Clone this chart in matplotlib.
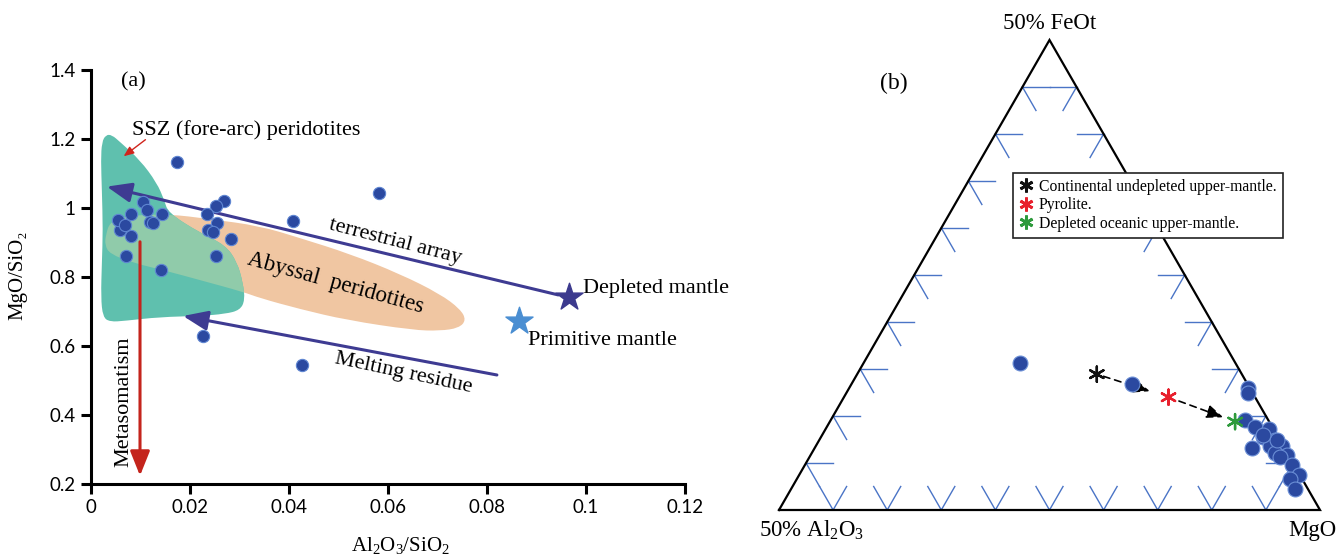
import numpy as np
import matplotlib.pyplot as plt
from matplotlib.path import Path
from matplotlib.patches import PathPatch
from matplotlib.lines import Line2D

plt.rcParams['font.family'] = ['Liberation Serif', 'DejaVu Serif']
plt.rcParams['mathtext.fontset'] = 'custom'
plt.rcParams['mathtext.rm'] = 'Liberation Serif'
plt.rcParams['mathtext.it'] = 'Liberation Serif:italic'

# ---- panel (a): Al2O3/SiO2 vs MgO/SiO2 ----
al_si = [0.0173, 0.0582, 0.0409, 0.0269, 0.0253, 0.0235, 0.0254, 0.0236, 0.0247,
         0.0282, 0.0253, 0.0141, 0.0070, 0.0080, 0.0058, 0.0055, 0.0068, 0.0081,
         0.0106, 0.0113, 0.0119, 0.0125, 0.0143, 0.0227, 0.0427]
mg_si = [1.132, 1.044, 0.962, 1.020, 1.005, 0.984, 0.957, 0.935, 0.931,
         0.910, 0.862, 0.819, 0.860, 0.918, 0.935, 0.965, 0.951, 0.984,
         1.016, 0.993, 0.958, 0.957, 0.982, 0.630, 0.545]

depleted_mantle = (0.0966, 0.743)
primitive_mantle = (0.0865, 0.672)

# field outlines (data units)
ssz_x = [0.0022, 0.0030, 0.0042, 0.0059, 0.0099, 0.0133, 0.0148, 0.0156, 0.0220,
         0.0271, 0.0295, 0.0307, 0.0311, 0.0301, 0.0271, 0.0220, 0.0139, 0.0069,
         0.0038, 0.0024, 0.0020, 0.0022, 0.0024, 0.0022, 0.0020]
ssz_y = [1.191, 1.212, 1.212, 1.191, 1.139, 1.073, 1.023, 0.986, 0.928,
         0.893, 0.844, 0.783, 0.733, 0.704, 0.693, 0.687, 0.684, 0.673,
         0.670, 0.684, 0.742, 0.841, 0.936, 1.052, 1.139]
aby_x = [0.0030, 0.0038, 0.0069, 0.0154, 0.0240, 0.0341, 0.0422, 0.0523, 0.0624,
         0.0705, 0.0746, 0.0758, 0.0743, 0.0705, 0.0651, 0.0517, 0.0422, 0.0341,
         0.0307, 0.0220, 0.0154, 0.0085, 0.0038, 0.0028]
aby_y = [0.922, 0.959, 0.977, 0.983, 0.968, 0.948, 0.913, 0.867, 0.809,
         0.751, 0.707, 0.675, 0.652, 0.644, 0.646, 0.675, 0.707, 0.739,
         0.757, 0.791, 0.817, 0.841, 0.867, 0.893]

xticks = [0, 0.02, 0.04, 0.06, 0.08, 0.1, 0.12]
xtick_labels = ['0', '0.02', '0.04', '0.06', '0.08', '0.1', '0.12']
yticks = [0.2, 0.4, 0.6, 0.8, 1.0, 1.2, 1.4]
ytick_labels = ['0.2', '0.4', '0.6', '0.8', '1', '1.2', '1.4']

# ---- panel (b): ternary, normalised (FeOt apex, MgO right) ----
tern_feo = [0.312, 0.268, 0.259, 0.248, 0.192, 0.177, 0.172, 0.156, 0.150, 0.136,
            0.131, 0.136, 0.121, 0.117, 0.112, 0.096, 0.075, 0.065, 0.045, 0.149, 0.160]
tern_mgo = [0.290, 0.518, 0.738, 0.743, 0.766, 0.791, 0.819, 0.816, 0.842, 0.840,
            0.808, 0.861, 0.857, 0.880, 0.870, 0.901, 0.923, 0.912, 0.932, 0.846, 0.815]
ref_labels = ['Continental undepleted upper-mantle.', 'Pyrolite.',
              'Depleted oceanic upper-mantle.']
ref_feo = [0.289, 0.240, 0.188]
ref_mgo = [0.443, 0.600, 0.749]
ref_colors = ['#111111', '#e8202d', '#2e9a3c']


def smooth_patch(xs, ys, **kw):
    pts = np.column_stack([xs, ys])
    mids = (pts + np.roll(pts, -1, axis=0)) / 2
    verts = [mids[-1]]
    codes = [Path.MOVETO]
    for p, m in zip(pts, mids):
        verts += [p, m]
        codes += [Path.CURVE3, Path.CURVE3]
    return PathPatch(Path(verts, codes), **kw)


fig = plt.figure(figsize=(13.38, 5.58), dpi=100)

ax = fig.add_axes([91 / 1338, 74 / 558, 594 / 1338, 414 / 558])
ax.set_xlim(0, 0.12)
ax.set_ylim(0.2, 1.4)
for s in ['top', 'right']:
    ax.spines[s].set_visible(False)
for s in ['left', 'bottom']:
    ax.spines[s].set_linewidth(2.2)
ax.set_xticks(xticks)
ax.set_xticklabels(xtick_labels)
ax.set_yticks(yticks)
ax.set_yticklabels(ytick_labels)
ax.tick_params(direction='out', length=7, width=2.2, labelsize=13.5, pad=4)
for lab in ax.get_xticklabels() + ax.get_yticklabels():
    lab.set_fontfamily('Lato')

aby = smooth_patch(aby_x, aby_y, fc='#f0c6a2', ec='none', zorder=1)
ax.add_patch(aby)
ssz = smooth_patch(ssz_x, ssz_y, fc='#5fc0ae', ec='none', zorder=2)
ax.add_patch(ssz)
ovl = smooth_patch(aby_x, aby_y, fc='#90cbaa', ec='none', zorder=3)
ax.add_patch(ovl)
ovl.set_clip_path(ssz)

arrow_blue = '#3e3b92'
big_head = '-|>,head_length=1.5,head_width=0.6'
ax.annotate('', xy=(0.0032, 1.062), xytext=(0.0944, 0.748),
            arrowprops=dict(arrowstyle=big_head, color=arrow_blue, lw=2.2,
                            shrinkA=0, shrinkB=0, mutation_scale=10), zorder=4)
ax.annotate('', xy=(0.0186, 0.687), xytext=(0.0820, 0.516),
            arrowprops=dict(arrowstyle=big_head, color=arrow_blue, lw=2.2,
                            shrinkA=0, shrinkB=0, mutation_scale=10), zorder=4)
ax.annotate('', xy=(0.0099, 0.224), xytext=(0.0099, 0.902),
            arrowprops=dict(arrowstyle=big_head, color='#c4241c', lw=2.2,
                            shrinkA=0, shrinkB=0, mutation_scale=10), zorder=4)
ax.annotate('', xy=(0.0066, 1.150), xytext=(0.0110, 1.198),
            arrowprops=dict(arrowstyle='-|>,head_length=0.6,head_width=0.25',
                            color='#d0241c', lw=1.0, shrinkA=0, shrinkB=0,
                            mutation_scale=10), zorder=4)

ax.scatter(al_si, mg_si, s=78, c='#2b49a0', edgecolors='#5f86d2',
           linewidths=0.8, zorder=5, clip_on=False)
ax.scatter(*depleted_mantle, marker='*', s=420, c='#3c3a8e', zorder=5)
ax.scatter(*primitive_mantle, marker='*', s=420, c='#4a8ed2', zorder=5)

ax.text(0.0085, 1.365, '(a)', fontsize=16, ha='center', va='center')
ax.text(0.0083, 1.226, 'SSZ (fore-arc) peridotites', fontsize=16, ha='left', va='center')
ax.text(0.0614, 0.902, 'terrestrial array', fontsize=16, ha='center', va='center',
        rotation=-14.5, rotation_mode='anchor')
ax.text(0.0493, 0.783, 'Abyssal  peridotites', fontsize=16.5, ha='center', va='center',
        rotation=-15.5, rotation_mode='anchor')
ax.text(0.0631, 0.521, 'Melting residue', fontsize=16, ha='center', va='center',
        rotation=-12, rotation_mode='anchor')
ax.text(0.0994, 0.768, 'Depleted mantle', fontsize=16, ha='left', va='center')
ax.text(0.0883, 0.617, 'Primitive mantle', fontsize=16, ha='left', va='center')
ax.text(0.0066, 0.438, 'Metasomatism', fontsize=16, ha='center', va='center', rotation=90)

fig.text(400 / 1338, 1 - 545 / 558, r'Al$_2$O$_3$/SiO$_2$', fontsize=15, ha='center', va='center')
fig.text(18 / 1338, 1 - 275 / 558, 'MgO/SiO₂', fontsize=15, ha='center', va='center', rotation=90)

# ---- ternary ----
tx = fig.add_axes([779 / 1338, 48 / 558, 541 / 1338, 470 / 558])
tx.set_xlim(0, 1)
tx.set_ylim(0, 1)
tx.axis('off')

tick_c = '#4a74c6'
tl = 0.05
for k in range(1, 10):
    h = k / 10
    # left edge
    x0 = h / 2
    tx.plot([x0, x0 + tl], [h, h], color=tick_c, lw=1, clip_on=False)
    tx.plot([x0, x0 + tl / 2], [h, h - tl], color=tick_c, lw=1, clip_on=False)
    # right edge
    x1 = 1 - h / 2
    tx.plot([x1, x1 - tl], [h, h], color=tick_c, lw=1, clip_on=False)
    tx.plot([x1, x1 - tl / 2], [h, h - tl], color=tick_c, lw=1, clip_on=False)
    # base
    tx.plot([h - tl / 2, h, h + tl / 2], [tl, 0, tl], color=tick_c, lw=1, clip_on=False)

tx.plot([0, 1, 0.5, 0], [0, 0, 1, 0], color='black', lw=1.6, clip_on=False,
        solid_joinstyle='miter')

feo = np.array(tern_feo)
mgo = np.array(tern_mgo)
tx.scatter(mgo + feo / 2, feo, s=115, c='#2b49a0', edgecolors='#6b8fd6',
           linewidths=0.8, zorder=5, clip_on=False)

rf = np.array(ref_feo)
rm = np.array(ref_mgo)
ru = rm + rf / 2
tx.scatter(ru, rf, marker=(6, 2, 0), s=120, c=ref_colors, linewidths=1.7, zorder=6)
small_head = '-|>,head_length=1.0,head_width=0.4'
tx.annotate('', xy=(ru[1], rf[1]), xytext=(ru[0], rf[0]),
            arrowprops=dict(arrowstyle=small_head, color='black', lw=1.2, ls=(0, (4, 3)),
                            shrinkA=5, shrinkB=14, mutation_scale=10))
tx.annotate('', xy=(ru[2], rf[2]), xytext=(ru[1], rf[1]),
            arrowprops=dict(arrowstyle=small_head, color='black', lw=1.2, ls=(0, (4, 3)),
                            shrinkA=8, shrinkB=9, mutation_scale=10))

tx.text(0.5, 1.035, '50% FeOt', fontsize=16.5, ha='center', va='center', clip_on=False)
tx.text(0.061, -0.043, r'50% Al$_2$O$_3$', fontsize=16.5, ha='center', va='center', clip_on=False)
tx.text(0.986, -0.043, 'MgO', fontsize=16.5, ha='center', va='center', clip_on=False)
tx.text(0.2126, 0.9085, '(b)', fontsize=17, ha='center', va='center', clip_on=False)

handles = [Line2D([], [], ls='none', marker=(6, 2, 0), color=c, markersize=10, mew=2.0)
           for c in ref_colors]
leg = tx.legend(handles, ref_labels, loc='upper left',
                bbox_to_anchor=(1013 / 1338, 1 - 172.7 / 558), bbox_transform=fig.transFigure,
                borderaxespad=0, frameon=True, fancybox=False, framealpha=1,
                edgecolor='#222222', fontsize=11.3, handlelength=0.9, handletextpad=0.35,
                labelspacing=0.15, borderpad=0.4)
leg.get_frame().set_linewidth(1.2)
leg.set_zorder(10)

fig.savefig('out.png', dpi=100)
